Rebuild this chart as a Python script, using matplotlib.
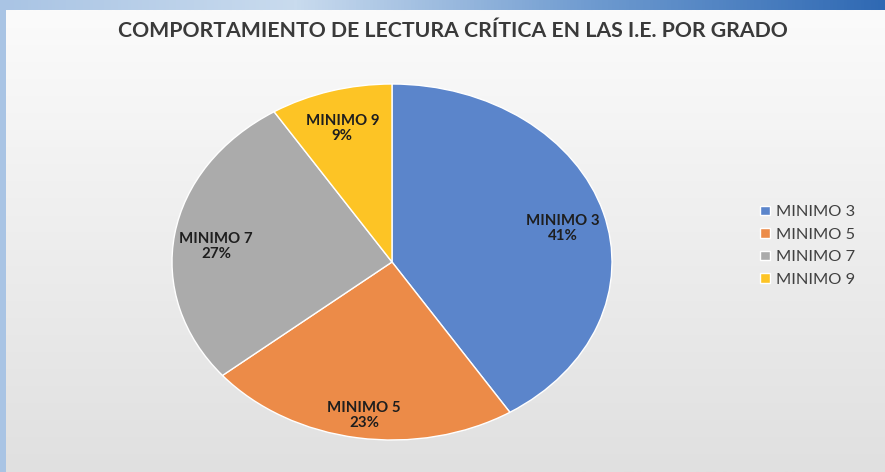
import matplotlib.pyplot as plt
import numpy as np
from matplotlib.colors import LinearSegmentedColormap

# Data
categories = ['MINIMO 3', 'MINIMO 5', 'MINIMO 7', 'MINIMO 9']
values = [41, 23, 27, 9]
colors = ['#5B85CB', '#EC8B48', '#ABABAB', '#FDC425']
title = 'COMPORTAMIENTO DE LECTURA CRÍTICA EN LAS I.E. POR GRADO'

W, H = 885, 472
fig = plt.figure(figsize=(W / 100, H / 100), dpi=100)

# Blue frame behind the panel (top strip with horizontal gradient)
frame = fig.add_axes([0, 0, 1, 1])
grad = np.linspace(0, 1, 256)[None, :]
frame.imshow(grad, cmap=LinearSegmentedColormap.from_list(
    'frame', ['#a9c4e4', '#c9dbee', '#6f9bd0', '#2f69b3']),
    aspect='auto', extent=[0, 1, 0, 1])
frame.axis('off')

# Light panel with vertical gradient
panel = fig.add_axes([6 / W, 0, 1 - 6 / W, 1 - 10 / H])
vgrad = np.linspace(0, 1, 256)[:, None]
panel.imshow(vgrad, cmap=LinearSegmentedColormap.from_list(
    'panel', ['#e0e0e0', '#fbfbfb']), aspect='auto', extent=[0, 1, 0, 1], origin='lower')
panel.axis('off')

# Title
fig.text(453 / W, 1 - 31 / H, title, ha='center', va='center',
         fontsize=15.3, fontweight='bold', color='#3a3a3a', family='Lato')

# Pie (elliptical, as in the reference)
ax = fig.add_axes([172 / W, 1 - 440 / H, 440 / W, 356 / H])
wedges, _ = ax.pie(values, colors=colors, startangle=90, counterclock=False,
                   wedgeprops=dict(edgecolor='white', linewidth=1))
ax.set_aspect('auto')
ax.set_xlim(-1, 1)
ax.set_ylim(-1, 1)
ax.axis('off')

# data labels inside the slices, slightly below the mid-angle point
for w, name, v in zip(wedges, categories, values):
    mid = np.deg2rad((w.theta1 + w.theta2) / 2)
    ax.text(0.81 * np.cos(mid), 0.83 * np.sin(mid) - 0.045, f'{name}\n{v}%',
            ha='center', va='center', fontsize=10.8, fontweight='bold',
            color='#1e1e1e', family='Lato', linespacing=1.1)

# Legend
fig.legend(wedges, categories, loc='center left',
           bbox_to_anchor=(745 / W, 1 - 246 / H), frameon=False,
           prop={'family': 'Lato', 'size': 11.8}, labelcolor='#404040',
           handlelength=0.6, handleheight=0.5, handletextpad=0.4,
           labelspacing=0.52)

fig.savefig('out.png', dpi=100)
